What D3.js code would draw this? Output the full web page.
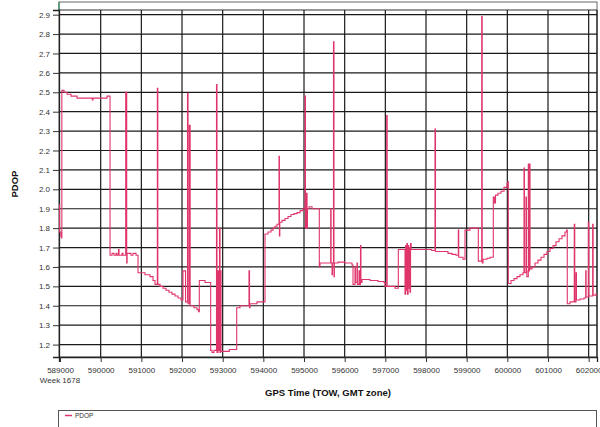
<!DOCTYPE html>
<html>
<head>
<meta charset="utf-8">
<script src="https://cdn.jsdelivr.net/npm/d3@7"></script>
<style>
  html, body { margin: 0; padding: 0; background: #fff; }
  svg { display: block; font-family: "Liberation Sans", Arial, sans-serif; }
</style>
</head>
<body>
<svg id="chart" width="600" height="427"></svg>
<script>
// GPS time of week (s) and PDOP samples, held until the next sample
const towSeconds = [
  588980, 588990, 589020, 589035, 589045, 589098, 589172, 589270, 589418, 589794, 589811, 590156,
  590230, 590279, 590328, 590377, 590402, 590439, 590451, 590525, 590549, 590615, 590640, 590650,
  590746, 590795, 590869, 590918, 591090, 591213, 591287, 591336, 591393, 591405, 591459, 591533,
  591607, 591680, 591754, 591828, 591902, 591975, 592024, 592086, 592135, 592148, 592180, 592200,
  592295, 592369, 592406, 592425, 592565, 592705, 592738, 592787, 592848, 592860, 592885, 592895,
  592922, 592935, 592947, 592960, 593163, 593345, 593426, 593647, 593660, 593672, 593844, 594041,
  594115, 594189, 594238, 594287, 594336, 594385, 594395, 594405, 594459, 594533, 594607, 594680,
  594754, 594828, 594902, 594975, 595025, 595035, 595061, 595075, 595085, 595123, 595197, 595376,
  595394, 595656, 595666, 595689, 595699, 595725, 595737, 595747, 595836, 596008, 596180, 596205,
  596254, 596264, 596303, 596313, 596353, 596363, 596389, 596400, 596426, 596623, 596820, 596967,
  596992, 597033, 597045, 597238, 597319, 597484, 597500, 597515, 597530, 597545, 597560, 597575,
  597590, 597605, 597620, 597635, 598140, 598221, 598233, 598344, 598541, 598639, 598738, 598795,
  598805, 598836, 598910, 598959, 599082, 599286, 599370, 599382, 599402, 599500, 599574, 599655,
  599684, 599709, 599770, 599844, 599918, 599992, 600016, 600024, 600090, 600164, 600238, 600311,
  600385, 600410, 600420, 600459, 600470, 600480, 600516, 600528, 600545, 600558, 600607, 600680,
  600754, 600828, 600902, 600975, 601049, 601123, 601197, 601271, 601344, 601418, 601459, 601474,
  601541, 601646, 601658, 601688, 601700, 601787, 601885, 601927, 601937, 601991, 602003, 602098,
  602110, 602180, 602205
];
const pdop = [
  1.92, 1.78, 1.76, 1.75, 2.51, 2.50, 2.49, 2.48, 2.47, 2.46, 2.47, 2.48,
  1.66, 1.67, 1.66, 1.67, 1.66, 1.69, 1.66, 1.67, 1.66, 2.50, 1.62, 1.67,
  1.66, 1.67, 1.66, 1.57, 1.56, 1.55, 1.53, 1.51, 2.52, 1.51, 1.50, 1.49,
  1.48, 1.47, 1.46, 1.45, 1.44, 1.43, 1.58, 1.42, 2.495, 1.41, 2.33, 1.40,
  1.39, 1.38, 1.37, 1.53, 1.52, 1.17, 1.16, 1.17, 2.54, 1.16, 1.58, 1.17,
  1.80, 1.16, 1.58, 1.165, 1.175, 1.39, 1.40, 1.58, 1.39, 1.41, 1.42, 1.77,
  1.78, 1.79, 1.80, 1.81, 1.82, 2.17, 1.76, 1.83, 1.84, 1.85, 1.86, 1.87,
  1.875, 1.88, 1.89, 1.90, 2.48, 1.80, 1.98, 1.80, 1.90, 1.91, 1.90, 1.60,
  1.62, 1.90, 1.62, 1.56, 1.62, 2.76, 1.55, 1.62, 1.625, 1.62, 1.61, 1.51,
  1.60, 1.52, 1.62, 1.51, 1.58, 1.51, 1.71, 1.52, 1.535, 1.53, 1.525, 1.52,
  1.50, 2.38, 1.50, 1.49, 1.69, 1.46, 1.71, 1.48, 1.72, 1.46, 1.71, 1.49,
  1.70, 1.47, 1.72, 1.69, 1.685, 2.31, 1.68, 1.68, 1.67, 1.665, 1.66, 1.79,
  1.65, 1.65, 1.64, 1.79, 1.80, 1.63, 2.89, 1.62, 1.64, 1.645, 1.65, 1.96,
  1.93, 1.97, 1.98, 1.99, 2.01, 2.03, 2.04, 1.515, 1.53, 1.54, 1.55, 1.56,
  1.57, 2.11, 1.57, 1.96, 1.58, 1.55, 2.13, 1.58, 2.13, 1.59, 1.60, 1.62,
  1.635, 1.65, 1.665, 1.68, 1.695, 1.71, 1.73, 1.745, 1.76, 1.78, 1.79, 1.41,
  1.42, 1.82, 1.42, 1.57, 1.43, 1.435, 1.44, 1.58, 1.445, 1.83, 1.45, 1.82,
  1.455, 1.46, 1.46
];
const xTicks = [589000, 590000, 591000, 592000, 593000, 594000, 595000, 596000,
                597000, 598000, 599000, 600000, 601000, 602000];
const yTicks = [1.2, 1.3, 1.4, 1.5, 1.6, 1.7, 1.8, 1.9, 2.0, 2.1, 2.2, 2.3, 2.4, 2.5, 2.6, 2.7, 2.8, 2.9];
const weekLabel = "Week 1678";
const seriesName = "PDOP";

const svg = d3.select("#chart");
const plot = { left: 59, right: 597, top: 10, bottom: 357 };
const lineColor = "#e0356a";
const gridColor = "#1a1a1a";

const x = d3.scaleLinear().domain([588975, 602205]).range([plot.left, plot.right]);
const y = d3.scaleLinear().domain([1.136, 2.924]).range([plot.bottom, plot.top]);

// outer frame above the plot
svg.append("rect")
  .attr("x", plot.left).attr("y", 2)
  .attr("width", plot.right - plot.left).attr("height", plot.bottom - 2)
  .attr("fill", "none").attr("stroke", "#666").attr("stroke-width", 1);
svg.append("line")
  .attr("x1", plot.left).attr("x2", plot.right).attr("y1", plot.top).attr("y2", plot.top)
  .attr("stroke", "#333").attr("stroke-width", 1.2);
svg.append("line")
  .attr("x1", plot.left).attr("x2", plot.left).attr("y1", 2).attr("y2", plot.top)
  .attr("stroke", "#2e8b57").attr("stroke-width", 1.2);

// grid
const grid = svg.append("g");
grid.selectAll("line.h").data(yTicks).join("line")
  .attr("x1", plot.left).attr("x2", plot.right)
  .attr("y1", d => y(d)).attr("y2", d => y(d))
  .attr("stroke", gridColor).attr("stroke-width", 1.2);
grid.selectAll("line.v").data(xTicks.slice(1)).join("line")
  .attr("x1", d => x(d)).attr("x2", d => x(d))
  .attr("y1", plot.top).attr("y2", plot.bottom)
  .attr("stroke", gridColor).attr("stroke-width", 1.2);
svg.append("line")
  .attr("x1", plot.right).attr("x2", plot.right).attr("y1", plot.top).attr("y2", plot.bottom)
  .attr("stroke", gridColor).attr("stroke-width", 1.2);

// axes
const yAxis = svg.append("g")
  .attr("transform", `translate(${plot.left},0)`)
  .call(d3.axisLeft(y).tickValues(yTicks).tickFormat(d3.format(".1f")).tickSize(6).tickPadding(3));
const xAxis = svg.append("g")
  .attr("transform", `translate(0,${plot.bottom})`)
  .call(d3.axisBottom(x).tickValues(xTicks).tickFormat(d3.format("d")).tickSize(5).tickPadding(5));
[yAxis, xAxis].forEach(a => {
  a.select(".domain").attr("stroke", "#222").attr("stroke-width", 1.3);
  a.selectAll(".tick line").attr("stroke", "#333");
  a.selectAll("text").attr("fill", "#333").style("font-size", "8px")
    .style("font-family", "\"Liberation Sans\", Arial, sans-serif");
});

svg.append("text")
  .attr("x", 60).attr("y", 383).attr("text-anchor", "middle")
  .attr("fill", "#333").style("font-size", "8px")
  .text(weekLabel);

// axis titles
svg.append("text")
  .attr("transform", "translate(18,184) rotate(-90)")
  .attr("text-anchor", "middle").attr("font-weight", "bold")
  .attr("fill", "#111").style("font-size", "9.5px")
  .text("PDOP");
svg.append("text")
  .attr("x", 328).attr("y", 396).attr("text-anchor", "middle")
  .attr("font-weight", "bold").attr("fill", "#111").style("font-size", "9.5px")
  .text("GPS Time (TOW, GMT zone)");

// series
const points = towSeconds.map((t, i) => [t, pdop[i]]);
const line = d3.line().x(d => x(d[0])).y(d => y(d[1])).curve(d3.curveStepAfter);
svg.append("path")
  .datum(points)
  .attr("d", line)
  .attr("fill", "none")
  .attr("stroke", lineColor)
  .attr("stroke-width", 1.1)
  .attr("stroke-linejoin", "miter");

// legend
const legend = svg.append("g");
legend.append("rect")
  .attr("x", 58.5).attr("y", 410.5).attr("width", 538).attr("height", 30)
  .attr("fill", "none").attr("stroke", "#555").attr("stroke-width", 1);
legend.append("line")
  .attr("x1", 65).attr("x2", 72).attr("y1", 415.5).attr("y2", 415.5)
  .attr("stroke", lineColor).attr("stroke-width", 1.5);
legend.append("text")
  .attr("x", 75).attr("y", 418).attr("fill", "#333").style("font-size", "6.5px")
  .text(seriesName);
</script>
</body>
</html>
